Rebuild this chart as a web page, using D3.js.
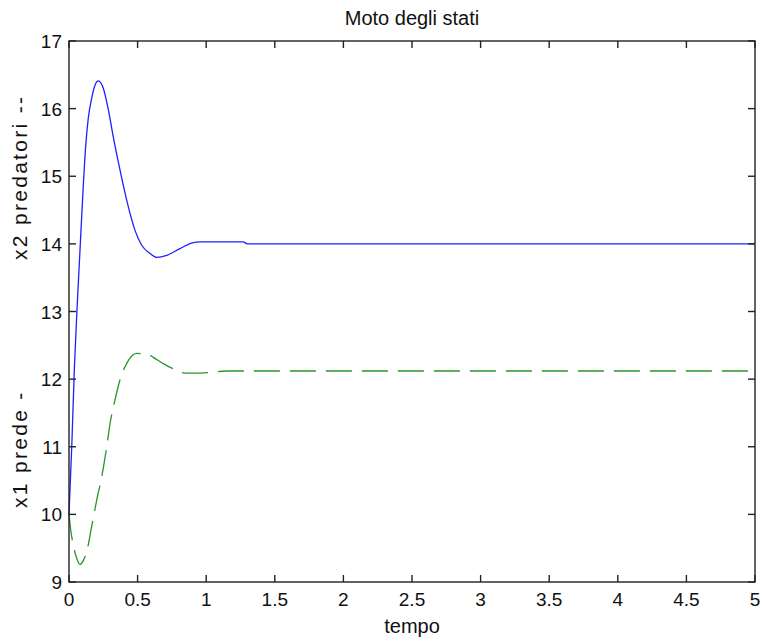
<!DOCTYPE html>
<html><head><meta charset="utf-8">
<script src="https://cdn.jsdelivr.net/npm/d3@7"></script>
<style>
body{margin:0;background:#fff;}
text{font-family:"Liberation Sans",Arial,sans-serif;fill:#111;}
</style></head>
<body><svg id="c" width="762" height="643"></svg>
<script>
// time and values of x2 (predatori, blue solid)
const tPred = [0, 0.02, 0.04, 0.06, 0.08, 0.10, 0.12, 0.14, 0.165, 0.19, 0.214, 0.25, 0.287, 0.323, 0.372, 0.42, 0.481, 0.53, 0.59, 0.639, 0.712, 0.809, 0.906, 0.955, 1.27, 1.30, 5];
const x2Pred = [10.0, 11.0, 12.2, 13.1, 13.9, 14.7, 15.4, 15.85, 16.15, 16.35, 16.41, 16.30, 15.98, 15.58, 15.09, 14.65, 14.20, 13.98, 13.86, 13.80, 13.83, 13.93, 14.02, 14.03, 14.03, 14.0, 14.0];
// time and values of x1 (prede, green dashed)
const tPrey = [0, 0.012, 0.031, 0.056, 0.08, 0.105, 0.129, 0.165, 0.202, 0.238, 0.275, 0.299, 0.335, 0.372, 0.42, 0.493, 0.566, 0.639, 0.687, 0.773, 0.845, 0.955, 1.15, 5];
const x1Prey = [10.0, 9.78, 9.55, 9.35, 9.26, 9.32, 9.45, 9.82, 10.21, 10.55, 11.0, 11.34, 11.69, 11.99, 12.23, 12.38, 12.37, 12.29, 12.23, 12.14, 12.09, 12.09, 12.12, 12.12];
const xTicks = [0, 0.5, 1, 1.5, 2, 2.5, 3, 3.5, 4, 4.5, 5];
const xTickLabels = ["0", "0.5", "1", "1.5", "2", "2.5", "3", "3.5", "4", "4.5", "5"];
const yTicks = [9, 10, 11, 12, 13, 14, 15, 16, 17];
const title = "Moto degli stati";
const xLabel = "tempo";
const yLabelLow = "x1 prede -";
const yLabelHigh = "x2 predatori --";

const L = 69, R = 755, T = 41, B = 582;
const svg = d3.select("#c");
const x = d3.scaleLinear().domain([0, 5]).range([L, R]);
const y = d3.scaleLinear().domain([9, 17]).range([B, T]);
const axisColor = "#222";

// lines
const line = d3.line().x(d => x(d[0])).y(d => y(d[1])).curve(d3.curveMonotoneX);
svg.append("path").datum(tPred.map((t, i) => [t, x2Pred[i]]))
  .attr("d", line).attr("fill", "none").attr("stroke", "#1f1fff").attr("stroke-width", 1.3);
svg.append("path").datum(tPrey.map((t, i) => [t, x1Prey[i]]))
  .attr("d", line).attr("fill", "none").attr("stroke", "#2a942a").attr("stroke-width", 1.3)
  .attr("stroke-dasharray", "26,10");

// axes: ticks inside, box
const tick = 7;
const ax = svg.append("g").attr("stroke", axisColor).attr("stroke-width", 1.4).attr("fill", "none");
ax.append("rect").attr("x", L).attr("y", T).attr("width", R - L).attr("height", B - T);
xTicks.forEach(v => {
  ax.append("line").attr("x1", x(v)).attr("x2", x(v)).attr("y1", B).attr("y2", B - tick);
  ax.append("line").attr("x1", x(v)).attr("x2", x(v)).attr("y1", T).attr("y2", T + tick);
});
yTicks.forEach(v => {
  ax.append("line").attr("x1", L).attr("x2", L + tick).attr("y1", y(v)).attr("y2", y(v));
  ax.append("line").attr("x1", R).attr("x2", R - tick).attr("y1", y(v)).attr("y2", y(v));
});

// tick labels
svg.append("g").selectAll("text").data(xTicks).join("text")
  .attr("x", d => x(d)).attr("y", 606).attr("text-anchor", "middle")
  .style("font-size", "19px").text((d, i) => xTickLabels[i]);
svg.append("g").selectAll("text").data(yTicks).join("text")
  .attr("x", 62).attr("y", d => y(d) + 7).attr("text-anchor", "end")
  .style("font-size", "19px").text(d => d);

// title and labels
svg.append("text").attr("x", (L + R) / 2).attr("y", 25).attr("text-anchor", "middle")
  .style("font-size", "20px").text(title);
svg.append("text").attr("x", (L + R) / 2).attr("y", 633).attr("text-anchor", "middle")
  .style("font-size", "20px").text(xLabel);
svg.append("text").attr("transform", "translate(27,508) rotate(-90)").attr("text-anchor", "start")
  .style("font-size", "21px").style("letter-spacing", "2.3px").text(yLabelLow);
svg.append("text").attr("transform", "translate(27,260) rotate(-90)").attr("text-anchor", "start")
  .style("font-size", "21px").style("letter-spacing", "2.3px").text(yLabelHigh);
</script></body></html>
